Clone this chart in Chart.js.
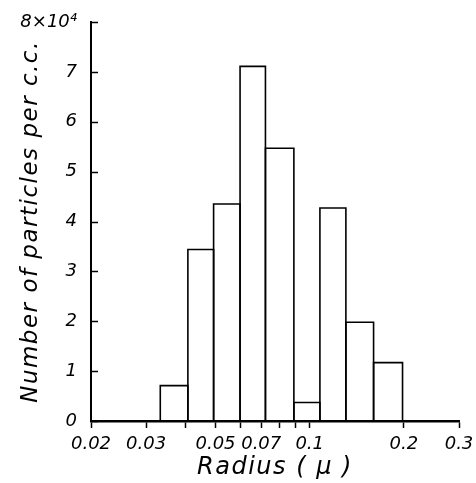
<!DOCTYPE html>
<html>
<head>
<meta charset="utf-8">
<script src="https://cdn.jsdelivr.net/npm/chart.js@4"></script>
<style>
  html, body { margin: 0; padding: 0; background: #fff; }
  #wrap { width: 476px; height: 483px; }
</style>
</head>
<body>
<div id="wrap"><canvas id="c" width="476" height="483"></canvas></div>
<script>
// Bin edges (radius, micron) and particle counts (x10^4 per c.c.)
const binEdges = [0.0333, 0.0408, 0.0493, 0.0599, 0.0722, 0.089, 0.1078, 0.1305, 0.160, 0.198];
const counts = [0.71, 3.44, 4.35, 7.11, 5.47, 0.37, 4.27, 1.98, 1.17];
const xTicks = [0.02, 0.03, 0.04, 0.05, 0.06, 0.07, 0.08, 0.09, 0.1, 0.2, 0.3];
const xTickLabels = ['0.02', '0.03', '', '0.05', '', '0.07', '', '', '0.1', '0.2', '0.3'];
const yTicks = [0, 1, 2, 3, 4, 5, 6, 7, 8];
const yTickLabels = ['0', '1', '2', '3', '4', '5', '6', '7', '8×10⁴'];

const datasets = counts.map((h, i) => ({
  data: [
    {x: binEdges[i], y: 0},
    {x: binEdges[i], y: h},
    {x: binEdges[i + 1], y: h},
    {x: binEdges[i + 1], y: 0}
  ],
  borderColor: '#000',
  borderWidth: 1.6,
  pointRadius: 0,
  tension: 0,
  fill: false
}));

const tickFont = {family: 'DejaVu Sans', style: 'italic', size: 18};
const titleFont = {family: 'DejaVu Sans', style: 'italic', size: 23};

const helper = {
  id: 'helper',
  afterDatasetsDraw(chart) {
    // titles are drawn after datasets (grid.z = 1): give them the hand-lettered spacing
    chart.ctx.letterSpacing = '1.5px';
  },
  afterDraw(chart) {
    const ctx = chart.ctx;
    ctx.letterSpacing = '0px';
    const y = chart.scales.y;
    const left = chart.chartArea.left;
    ctx.save();
    ctx.strokeStyle = '#000';
    ctx.lineWidth = 1.5;
    yTicks.forEach(v => {
      const py = Math.round(y.getPixelForValue(v)) + 0.5;
      ctx.beginPath();
      ctx.moveTo(left, py);
      ctx.lineTo(left + 7, py);
      ctx.stroke();
    });
    ctx.restore();
  }
};

new Chart(document.getElementById('c'), {
  type: 'line',
  data: {datasets},
  options: {
    responsive: false,
    animation: false,
    layout: {padding: 0},
    plugins: {legend: {display: false}, tooltip: {enabled: false}},
    scales: {
      x: {
        type: 'logarithmic',
        min: 0.02,
        max: 0.3,
        afterBuildTicks(scale) { scale.ticks = xTicks.map(v => ({value: v})); },
        afterFit(scale) { scale.height = 62; scale.paddingRight = 17; scale.paddingLeft = 0; },
        grid: {display: true, z: 1, drawOnChartArea: false, drawTicks: true, tickLength: 7, tickColor: '#000', tickWidth: 1.5},
        border: {display: true, z: 1, color: '#000', width: 2.5},
        ticks: {
          autoSkip: false, maxRotation: 0, minRotation: 0, padding: 6,
          color: '#000', font: tickFont,
          callback: (v, i) => xTickLabels[i]
        },
        title: {display: true, text: 'Radius ( μ )', color: '#000', font: {family: 'DejaVu Sans', style: 'italic', size: 24}, padding: {top: 0, bottom: 1}}
      },
      y: {
        type: 'linear',
        min: 0,
        max: 8,
        afterBuildTicks(scale) { scale.ticks = yTicks.map(v => ({value: v})); },
        afterFit(scale) { scale.width = 91; scale.paddingTop = 22; scale.paddingBottom = 0; },
        grid: {display: true, z: 1, drawOnChartArea: false, drawTicks: false},
        border: {display: true, z: 1, color: '#000', width: 2},
        ticks: {
          padding: 14, color: '#000', font: tickFont,
          callback: (v, i) => yTickLabels[i]
        },
        title: {display: true, text: 'Number of particles per c.c.', color: '#000', font: titleFont, padding: {top: 17, bottom: 0}}
      }
    }
  },
  plugins: [helper]
});
</script>
</body>
</html>
